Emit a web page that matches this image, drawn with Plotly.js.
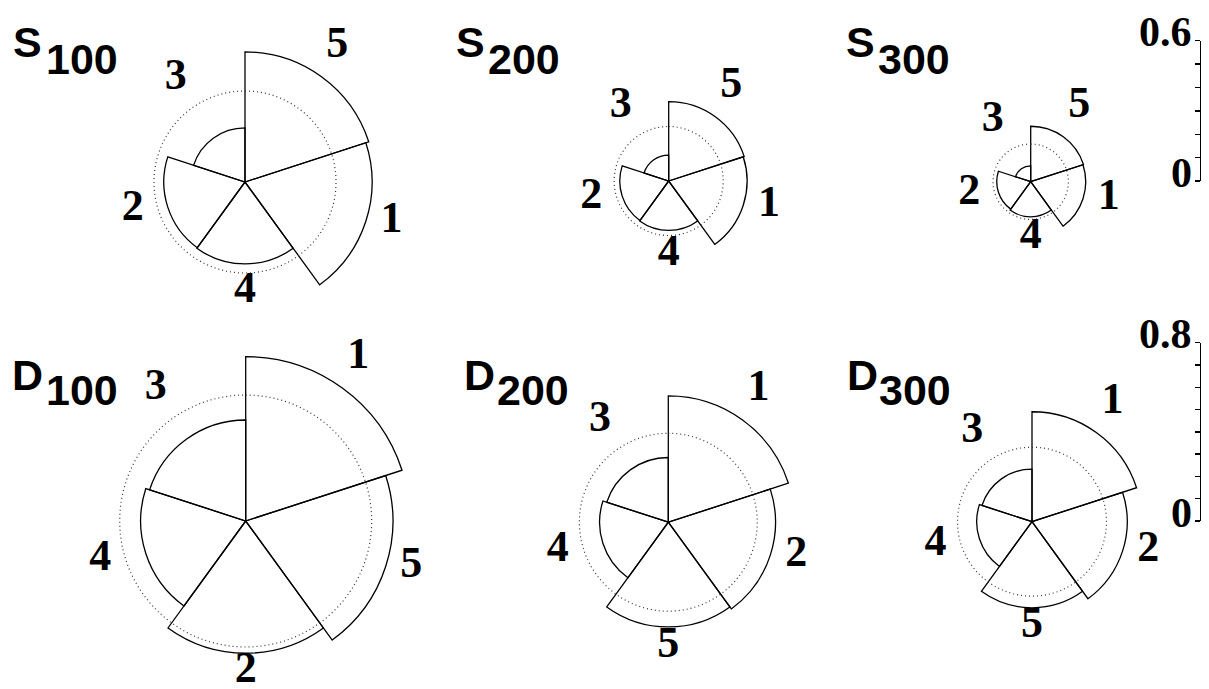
<!DOCTYPE html>
<html>
<head>
<meta charset="utf-8">
<script src="https://cdn.plot.ly/plotly-3.0.1.min.js"></script>
<style>
html,body{margin:0;padding:0;background:#fff;overflow:hidden}
#chart{width:1209px;height:689px}
</style>
</head>
<body>
<div id="chart"></div>
<script>
// ---------------- data ----------------
// sectors listed clockwise starting at 12 o'clock
const s100Labels = ['5', '1', '4', '2', '3'];
const s100Values = [0.556, 0.543, 0.350, 0.347, 0.231];
const s100Ref = 0.389;

const s200Labels = ['5', '1', '4', '2', '3'];
const s200Values = [0.339, 0.335, 0.211, 0.209, 0.111];
const s200Ref = 0.233;

const s300Labels = ['5', '1', '4', '2', '3'];
const s300Values = [0.237, 0.235, 0.150, 0.145, 0.068];
const s300Ref = 0.161;

const d100Labels = ['1', '5', '2', '4', '3'];
const d100Values = [0.737, 0.660, 0.593, 0.471, 0.453];
const d100Ref = 0.565;

const d200Labels = ['1', '2', '5', '4', '3'];
const d200Values = [0.568, 0.482, 0.471, 0.309, 0.291];
const d200Ref = 0.400;

const d300Labels = ['1', '2', '5', '4', '3'];
const d300Values = [0.493, 0.427, 0.386, 0.248, 0.236];
const d300Ref = 0.334;

const panelLetters = ['S', 'S', 'S', 'D', 'D', 'D'];
const panelNumbers = ['100', '200', '300', '100', '200', '300'];

const topScaleTicks = [0, 0.1, 0.2, 0.3, 0.4, 0.5, 0.6];
const topScaleLabels = ['0', '0.6'];
const bottomScaleTicks = [0, 0.1, 0.2, 0.3, 0.4, 0.5, 0.6, 0.7, 0.8];
const bottomScaleLabels = ['0', '0.8'];

// ---------------- layout geometry ----------------
const W = 1209, H = 689;
const SERIF = '"Liberation Serif", "Times New Roman", "DejaVu Serif", serif';
const SANS = '"Liberation Sans", Arial, "DejaVu Sans", sans-serif';
const TOP = {ppu: 234, rmax: 0.6, band: [0, 342]};
const BOT = {ppu: 223, rmax: 0.75, band: [345, 689]};

const panels = [
  {labels: s100Labels, values: s100Values, ref: s100Ref, row: TOP, cx: 245,   cy: 182,   lx: 11,  nx: 44,  ly: 42.5, ny: 59},
  {labels: s200Labels, values: s200Values, ref: s200Ref, row: TOP, cx: 668.7, cy: 181,   lx: 454, nx: 486, ly: 42.5, ny: 59},
  {labels: s300Labels, values: s300Values, ref: s300Ref, row: TOP, cx: 1030.7,cy: 181.7, lx: 844, nx: 876, ly: 42.5, ny: 59},
  {labels: d100Labels, values: d100Values, ref: d100Ref, row: BOT, cx: 245.7, cy: 521,   lx: 10,  nx: 44,  ly: 375,  ny: 390},
  {labels: d200Labels, values: d200Values, ref: d200Ref, row: BOT, cx: 668.3, cy: 522.7, lx: 462, nx: 495, ly: 375,  ny: 390},
  {labels: d300Labels, values: d300Values, ref: d300Ref, row: BOT, cx: 1032,  cy: 521.7, lx: 845, nx: 877, ly: 375,  ny: 390}
];

const fx = px => px / W;
const fy = py => 1 - py / H;

const circleTheta = [];
for (let t = 0; t <= 360; t += 2) circleTheta.push(t);

const traces = [];
const layout = {
  width: W, height: H,
  margin: {l: 0, r: 0, t: 0, b: 0},
  paper_bgcolor: '#fff',
  plot_bgcolor: 'rgba(0,0,0,0)',
  showlegend: false,
  hovermode: false,
  dragmode: false,
  font: {family: SERIF, color: '#000'},
  annotations: []
};

const LABEL_PAD = 27;   // px beyond the outer edge
const LABEL_LIFT = 9;   // px, text sits slightly above its anchor

panels.forEach((p, i) => {
  const n = p.values.length;
  const step = 360 / n;
  const R = p.row.rmax * p.row.ppu;
  const polarId = 'polar' + (i === 0 ? '' : (i + 1));
  layout[polarId] = {
    domain: {x: [fx(p.cx - R), fx(p.cx + R)], y: [fy(p.cy + R), fy(p.cy - R)]},
    bgcolor: 'rgba(0,0,0,0)',
    radialaxis: {visible: false, range: [0, p.row.rmax]},
    angularaxis: {visible: false, direction: 'clockwise', rotation: 90}
  };
  const thetas = p.values.map((_, k) => (k + 0.5) * step);
  traces.push({
    type: 'barpolar', subplot: polarId,
    r: p.values, theta: thetas, width: step,
    marker: {color: 'rgba(0,0,0,0)', line: {color: '#000', width: 1.3}},
    hoverinfo: 'skip'
  });
  traces.push({
    type: 'scatterpolar', subplot: polarId, mode: 'lines',
    r: circleTheta.map(() => p.ref), theta: circleTheta,
    line: {color: '#333', width: 1.2, dash: '1px,3px'},
    hoverinfo: 'skip'
  });

  // cartesian overlay with identical scale for the sector labels
  const ax = i + 3;
  const x0 = Math.max(0, p.cx - 230), x1 = Math.min(W, p.cx + 230);
  const y0 = p.row.band[0], y1 = p.row.band[1];
  layout['xaxis' + ax] = {
    domain: [fx(x0), fx(x1)], range: [(x0 - p.cx) / p.row.ppu, (x1 - p.cx) / p.row.ppu],
    visible: false, anchor: 'y' + ax, fixedrange: true
  };
  layout['yaxis' + ax] = {
    domain: [fy(y1), fy(y0)], range: [(p.cy - y1) / p.row.ppu, (p.cy - y0) / p.row.ppu],
    visible: false, anchor: 'x' + ax, fixedrange: true
  };
  const lx = [], ly = [];
  p.values.forEach((v, k) => {
    const a = thetas[k] * Math.PI / 180;
    const rr = Math.max(v, p.ref) + LABEL_PAD / p.row.ppu;
    lx.push(rr * Math.sin(a));
    ly.push(rr * Math.cos(a) + LABEL_LIFT / p.row.ppu);
  });
  traces.push({
    type: 'scatter', xaxis: 'x' + ax, yaxis: 'y' + ax, mode: 'text',
    x: lx, y: ly, text: p.labels, textposition: 'middle center',
    textfont: {family: SERIF, size: 44, weight: 'bold', color: '#000'},
    cliponaxis: false, hoverinfo: 'skip'
  });

  // panel title: letter + lowered number
  layout.annotations.push({
    xref: 'paper', yref: 'paper', x: fx(p.lx), y: fy(p.ly),
    xanchor: 'left', yanchor: 'middle', showarrow: false,
    text: '<b>' + panelLetters[i] + '</b>',
    font: {family: SANS, size: 43, color: '#000'}
  });
  layout.annotations.push({
    xref: 'paper', yref: 'paper', x: fx(p.nx), y: fy(p.ny),
    xanchor: 'left', yanchor: 'middle', showarrow: false,
    text: '<b>' + panelNumbers[i] + '</b>',
    font: {family: SANS, size: 43, color: '#000'}
  });
});

// ---------------- scale bars ----------------
const AXIS_X = 1201;
function scaleAxis(xid, yid, ticks, labels, pyTop, pyBottom) {
  const yrange = [ticks[0], ticks[ticks.length - 1]];
  layout['xaxis' + xid] = {domain: [fx(AXIS_X), 1], range: [0, 1], visible: false, anchor: 'y' + yid, fixedrange: true};
  layout['yaxis' + yid] = {
    domain: [fy(pyBottom), fy(pyTop)], range: yrange, anchor: 'x' + xid, side: 'left',
    showline: true, linecolor: '#000', linewidth: 1.3,
    ticks: 'outside', ticklen: 5, tickwidth: 1.3, tickcolor: '#000',
    tickmode: 'array', tickvals: ticks, showticklabels: false,
    showgrid: false, zeroline: false, fixedrange: true
  };
  traces.push({
    type: 'scatter', xaxis: 'x' + xid, yaxis: 'y' + yid, mode: 'markers',
    x: [0.5], y: [ticks[0]], marker: {opacity: 0, size: 1}, hoverinfo: 'skip'
  });
  labels.forEach(t => {
    layout.annotations.push({
      xref: 'x' + xid, yref: 'y' + yid, x: 0, y: Number(t),
      xanchor: 'right', yanchor: 'middle', xshift: -7, yshift: 8.5, showarrow: false,
      text: t, font: {family: SERIF, size: 42, weight: 'bold', color: '#000'}
    });
  });
}
scaleAxis('', '', topScaleTicks, topScaleLabels, 40.7, 181);
scaleAxis('2', '2', bottomScaleTicks, bottomScaleLabels, 342.7, 521);

Plotly.newPlot('chart', traces, layout, {staticPlot: true, displayModeBar: false});
</script>
</body>
</html>
